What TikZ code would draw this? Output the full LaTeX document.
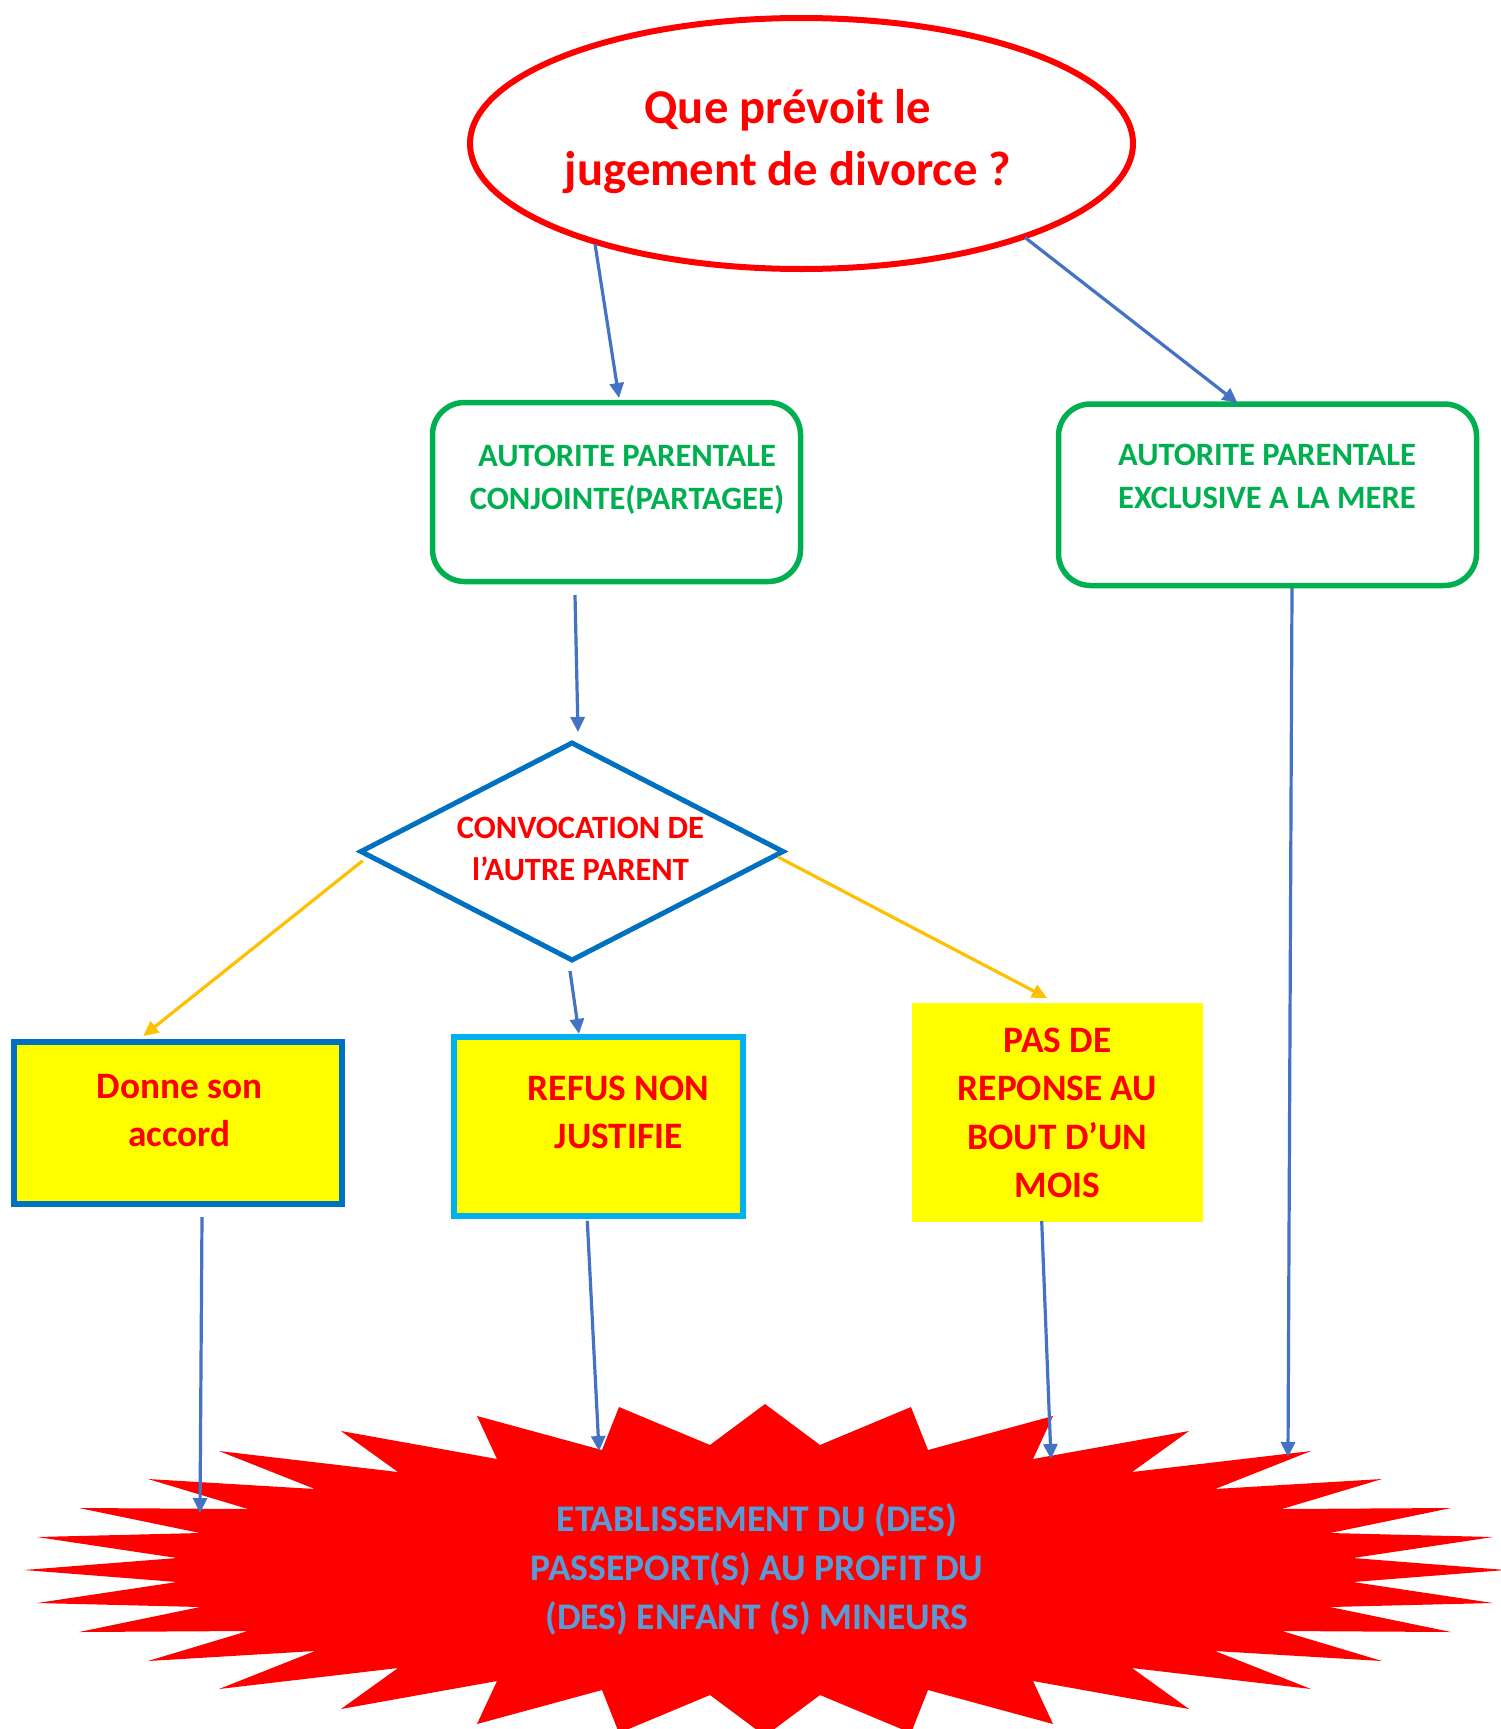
\documentclass[tikz,border=0pt]{standalone}
\usepackage{fontspec}
\setmainfont{Carlito}
\usetikzlibrary{arrows.meta,shapes.geometric,calc}
\definecolor{cRed}{HTML}{FF0000}
\definecolor{cGreen}{HTML}{00B050}
\definecolor{cBlue}{HTML}{0070C0}
\definecolor{cCyan}{HTML}{00B0F0}
\definecolor{cArrow}{HTML}{4472C4}
\definecolor{cOrange}{HTML}{FFC000}
\definecolor{cStarText}{HTML}{5B9BD5}
\definecolor{cYellow}{HTML}{FFFF00}
\begin{document}
\begin{tikzpicture}[x=1pt,y=-1pt,
  arr/.style={draw=cArrow,line width=3.2pt,-{Triangle[length=15pt,width=14pt]}},
  oarr/.style={arr,draw=cOrange},
  shapebase/.style={inner sep=0pt,outer sep=0pt},
  gbox/.style={shapebase,rectangle,draw=cGreen,line width=5.5pt,rounded corners=32pt},
  ybox/.style={shapebase,rectangle,fill=cYellow,line width=6pt},
  ttitle/.style={inner sep=0pt,align=center,text=cRed,font=\bfseries\fontsize{48.6}{62}\selectfont},
  tgreen/.style={inner sep=0pt,align=center,text=cGreen,font=\bfseries\fontsize{32.6}{43}\selectfont},
  tconv/.style={inner sep=0pt,align=center,text=cRed,font=\bfseries\fontsize{32.5}{42}\selectfont},
  tyellow/.style={inner sep=0pt,align=center,text=cRed,font=\bfseries\fontsize{37.3}{48.5}\selectfont},
  tstar/.style={inner sep=0pt,align=center,text=cStarText,font=\bfseries\fontsize{37.6}{49}\selectfont}]
\useasboundingbox[fill=white] (0,0) rectangle (1501,1729);

% starburst
\fill[cRed] (765,1404) -- (820,1445) -- (911,1407) -- (928,1450) -- (1053,1416) -- (1033,1459)
 -- (1189,1431) -- (1132,1472) -- (1311,1451) -- (1215,1489) -- (1382,1479) -- (1282,1509)
 -- (1451,1508) -- (1330,1533) -- (1493,1537) -- (1353,1558) -- (1506,1570) -- (1353,1582)
 -- (1493,1603) -- (1330,1607) -- (1451,1632) -- (1282,1631) -- (1382,1661) -- (1215,1651)
 -- (1311,1689) -- (1132,1668) -- (1189,1709) -- (1033,1681) -- (1053,1724) -- (928,1690)
 -- (911,1733) -- (820,1695) -- (765,1736) -- (710,1695) -- (619,1733) -- (602,1690)
 -- (477,1724) -- (497,1681) -- (341,1709) -- (398,1668) -- (219,1689) -- (315,1651)
 -- (148,1661) -- (248,1631) -- (79,1632) -- (200,1607) -- (37,1603) -- (177,1582)
 -- (24,1570) -- (177,1558) -- (37,1537) -- (200,1533) -- (79,1508) -- (248,1509)
 -- (148,1479) -- (315,1489) -- (219,1451) -- (398,1472) -- (341,1431) -- (497,1459)
 -- (477,1416) -- (602,1450) -- (619,1407) -- (710,1445) -- cycle;
\node[tstar] (etab) at (757,1569) {ETABLISSEMENT DU (DES)\\PASSEPORT(S) AU PROFIT DU\\(DES) ENFANT (S) MINEURS};

% shapes
\node[shapebase,ellipse,draw=cRed,line width=6pt,minimum width=663pt,minimum height=251pt] (ell) at (801.5,143.5) {};
\node[ttitle] (elltxt) at (788,142) {Que prévoit le\\jugement de divorce ?};

\node[gbox,minimum width=368pt,minimum height=179pt] (apc) at (616.5,492) {};
\node[tgreen] (apctxt) at (627,480) {AUTORITE PARENTALE\\CONJOINTE(PARTAGEE)};

\node[gbox,minimum width=418pt,minimum height=181.5pt] (ape) at (1267.5,494.75) {};
\node[tgreen] (apetxt) at (1267,476) {AUTORITE PARENTALE\\EXCLUSIVE A LA MERE};

\node[shapebase,diamond,draw=cBlue,line width=5pt,minimum width=422pt,minimum height=217pt] (conv) at (572,851.5) {};
\node[tconv] (convtxt) at (580.5,849) {CONVOCATION DE\\l’AUTRE PARENT};

\node[ybox,draw=cBlue,minimum width=328pt,minimum height=162pt] (acc) at (178,1123) {};
\node[tyellow] (acctxt) at (179.5,1110.5) {Donne son\\accord};

\node[ybox,draw=cCyan,minimum width=289pt,minimum height=179pt] (ref) at (598.3,1126.7) {};
\node[tyellow] (reftxt) at (618.5,1112.3) {REFUS NON\\JUSTIFIE};

\node[shapebase,rectangle,fill=cYellow,minimum width=291pt,minimum height=219pt] (pas) at (1057.5,1112.5) {};
\node[tyellow] (pastxt) at (1057.5,1113) {PAS DE\\REPONSE AU\\BOUT D’UN\\MOIS};

% free ends on the starburst
\coordinate (e1) at (200,1513);
\coordinate (e2) at (599,1451);
\coordinate (e3) at (1051,1459);
\coordinate (e4) at (1288,1457);

% connectors
\draw[arr] ($(ell.center)+(-206.5,100.5)$) -- ($(apc.north)+(2.5,-4.5)$);
\draw[arr] ($(ell.center)+(223.5,94)$) -- ($(ape.north)+(-30,-1)$);
\draw[arr] ($(apc.south)+(-41.5,13.5)$) -- ($(conv.north)+(6,-11)$);
\draw[arr] ($(ape.south)+(24.5,2.5)$) -- (e4);
\draw[oarr] ($(conv.west)+(1.7,9.2)$) -- ($(acc.north)+(-34.7,-6)$);
\draw[oarr] ($(conv.east)+(-5,5.5)$) -- ($(pas.north)+(-10.5,-5)$);
\draw[arr] ($(conv.south)+(-2,11)$) -- ($(ref.north)+(-19.3,-3.3)$);
\draw[arr] ($(acc.south)+(24,13)$) -- (e1);
\draw[arr] ($(ref.south)+(-11,4.7)$) -- (e2);
\draw[arr] ($(pas.south)+(-15.8,-1)$) -- (e3);
\end{tikzpicture}
\end{document}
